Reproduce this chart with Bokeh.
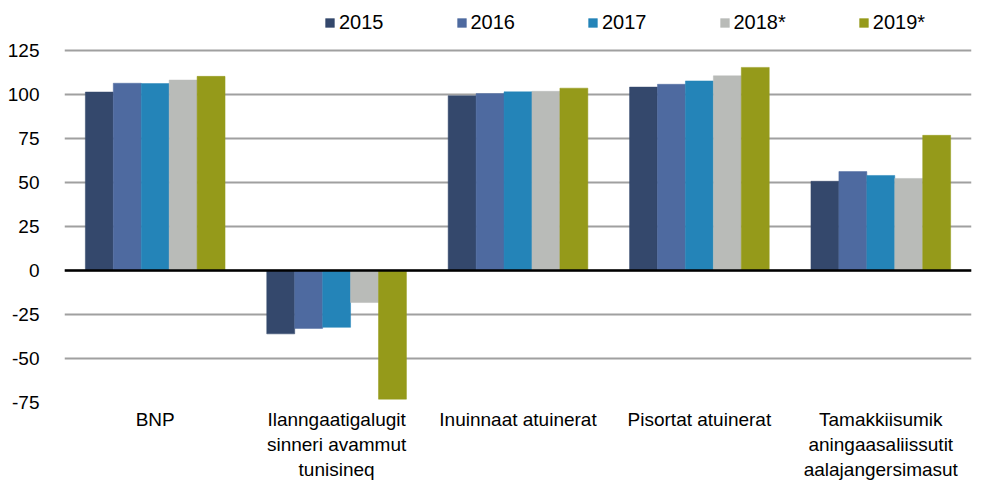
from bokeh.plotting import figure
from bokeh.models import ColumnDataSource, FactorRange, Range1d, Span, Legend, LegendItem, FixedTicker
from bokeh.transform import dodge
from bokeh.embed import file_html
from bokeh.resources import INLINE

categories = ["BNP", "Ilanngaatigalugit\nsinneri avammut\ntunisineq", "Inuinnaat atuinerat",
              "Pisortat atuinerat", "Tamakkiisumik\naningaasaliissutit\naalajangersimasut"]
years = ["2015", "2016", "2017", "2018*", "2019*"]
v2015 = [101.4, -36.0, 99.3, 104.2, 50.7]
v2016 = [106.4, -32.9, 100.5, 105.8, 56.2]
v2017 = [106.2, -32.3, 101.5, 107.7, 54.0]
v2018 = [108.2, -18.2, 101.8, 110.6, 52.3]
v2019 = [110.3, -73.1, 103.6, 115.4, 76.8]
colors = ["#34486C", "#4E6AA0", "#2484B8", "#B9BBB8", "#959A1A"]
yticks = [-75, -50, -25, 0, 25, 50, 75, 100, 125]

W, H = 973, 482
top_px, bottom_px = 50, 402          # pixel rows of the 125 and -75 gridlines
y_lo, y_hi = yticks[0], yticks[-1]
ppu = (bottom_px - top_px) / (y_hi - y_lo)
y_end = y_hi + top_px / ppu          # room above the grid for the legend

series = [v2015, v2016, v2017, v2018, v2019]
src = ColumnDataSource(dict(cat=categories, **{f"y{i}": s for i, s in enumerate(series)}))

p = figure(x_range=FactorRange(*categories), y_range=Range1d(y_lo, y_end),
           width=W, height=H, output_backend="svg", toolbar_location=None,
           min_border_left=64, min_border_right=2, min_border_top=0,
           min_border_bottom=H - bottom_px)
p.outline_line_color = None

bw = 0.154
offsets = [-2 * bw, -bw, 0, bw, 2 * bw]
items = []
for i, (yr, c, off) in enumerate(zip(years, colors, offsets)):
    r = p.vbar(x=dodge("cat", off, range=p.x_range), top=f"y{i}", bottom=0, width=bw,
               source=src, fill_color=c, line_color=c, line_width=0.5)
    items.append(LegendItem(label=yr, renderers=[r]))

p.add_layout(Span(location=0, dimension="width", line_color="black", line_width=2.5))

p.xgrid.grid_line_color = None
p.ygrid.grid_line_color = "#A0A0A0"
p.ygrid.grid_line_width = 2
p.yaxis.ticker = FixedTicker(ticks=yticks)
p.yaxis.major_label_overrides = {t: str(t) for t in yticks}

for ax in (p.xaxis[0], p.yaxis[0]):
    ax.axis_line_color = None
    ax.major_tick_line_color = None
    ax.minor_tick_line_color = None
    ax.major_label_text_font = "Liberation Sans"
    ax.major_label_text_font_size = "19px"
    ax.major_label_text_color = "black"
p.yaxis.major_label_standoff = 19
p.xaxis.major_label_standoff = 0

legend = Legend(items=items, orientation="horizontal", location=(260, bottom_px - 34),
                label_text_font="Liberation Sans", label_text_font_size="20px",
                label_text_color="black", glyph_width=11, glyph_height=11,
                label_standoff=4, spacing=72, padding=0, margin=0,
                border_line_color=None, background_fill_alpha=0)
p.add_layout(legend, "center")

open("out.html", "w").write(file_html(p, INLINE))
